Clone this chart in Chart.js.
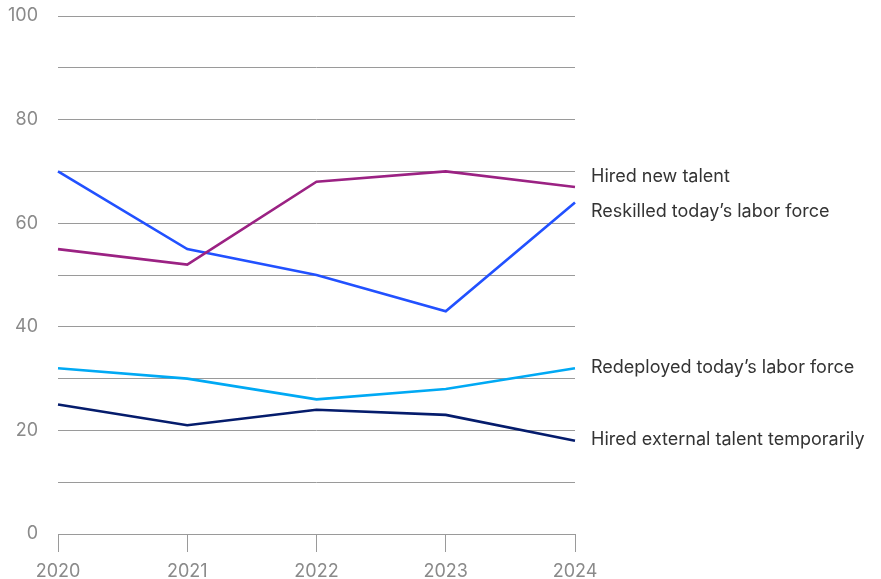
<!DOCTYPE html>
<html>
<head>
<meta charset="utf-8">
<script src="https://cdn.jsdelivr.net/npm/chart.js@4"></script>
<style>
html,body{margin:0;padding:0;background:#fff;}
#wrap{width:881px;height:579px;position:relative;}
</style>
</head>
<body>
<div id="wrap"><canvas id="c" width="881" height="579"></canvas></div>
<script>
const years = ['2020','2021','2022','2023','2024'];
const seriesNames = ['Hired new talent','Reskilled today\u2019s labor force','Redeployed today\u2019s labor force','Hired external talent temporarily'];
const hiredNew = [55,52,68,70,67];
const reskilled = [70,55,50,43,64];
const redeployed = [32,30,26,28,32];
const hiredExternal = [25,21,24,23,18];
const yTicks = [0,20,40,60,80,100];
const colors = ['#9b2283','#2251ff','#00a9f4','#051c6c'];

const FONT = 'Inter, "Noto Sans", sans-serif';

const endLabels = {
  id:'endLabels',
  afterDatasetsDraw(chart){
    const ctx = chart.ctx;
    const ys = chart.scales.y;
    const xs = chart.scales.x;
    const items = chart.data.datasets.map((d,i)=>({i, label:d.label, y: ys.getPixelForValue(d.data[d.data.length-1])}));
    items.sort((a,b)=>a.y-b.y);
    const gap = 35;
    for(let iter=0;iter<50;iter++){
      let moved=false;
      for(let k=1;k<items.length;k++){
        const d = items[k].y-items[k-1].y;
        if(d<gap){
          const m=(gap-d)/2;
          items[k].y+=m; items[k-1].y-=m; moved=true;
        }
      }
      if(!moved)break;
    }
    ctx.save();
    ctx.font = '18px '+FONT;
    ctx.fillStyle = '#333333';
    ctx.textBaseline = 'middle';
    ctx.textAlign = 'left';
    const x = xs.getPixelForValue(years.length-1)+16;
    items.forEach(it=>ctx.fillText(it.label, x, it.y - 1));
    ctx.restore();
  }
};

const series = [hiredNew, reskilled, redeployed, hiredExternal];
new Chart(document.getElementById('c'), {
  type:'line',
  data:{
    labels: years,
    datasets: series.map((s,i)=>({
      label: seriesNames[i], data: s, borderColor: colors[i], backgroundColor: colors[i],
      borderWidth: 2.6, pointRadius: 0, tension: 0, fill:false
    }))
  },
  options:{
    responsive:false, animation:false,
    layout:{padding:{top:16,right:306,left:0,bottom:0}},
    plugins:{legend:{display:false}, tooltip:{enabled:false}},
    scales:{
      x:{
        type:'category', offset:false,
        grid:{display:true, drawOnChartArea:false, drawTicks:true, tickLength:18, color:'#9a9a9a', lineWidth:1},
        border:{display:true, color:'#9a9a9a', width:1},
        ticks:{color:'#8a8a8a', font:{family:FONT, size:18}, padding:9, maxRotation:0},
        afterFit(s){ s.height = 45; s.paddingLeft = 0; s.paddingRight = 0; }
      },
      y:{
        min:0, max:100,
        afterBuildTicks(s){ s.ticks = []; for(let v=0; v<=100; v+=10) s.ticks.push({value:v}); },
        grid:{color:'#9a9a9a', lineWidth:1, drawTicks:false},
        border:{display:false},
        ticks:{color:'#8a8a8a', font:{family:FONT, size:18}, padding:20,
          callback(v){ return yTicks.includes(v) ? String(v) : ''; }},
        afterFit(s){ s.width = 58; s.paddingTop = 0; s.paddingBottom = 0; }
      }
    }
  },
  plugins:[endLabels]
});
</script>
</body>
</html>
